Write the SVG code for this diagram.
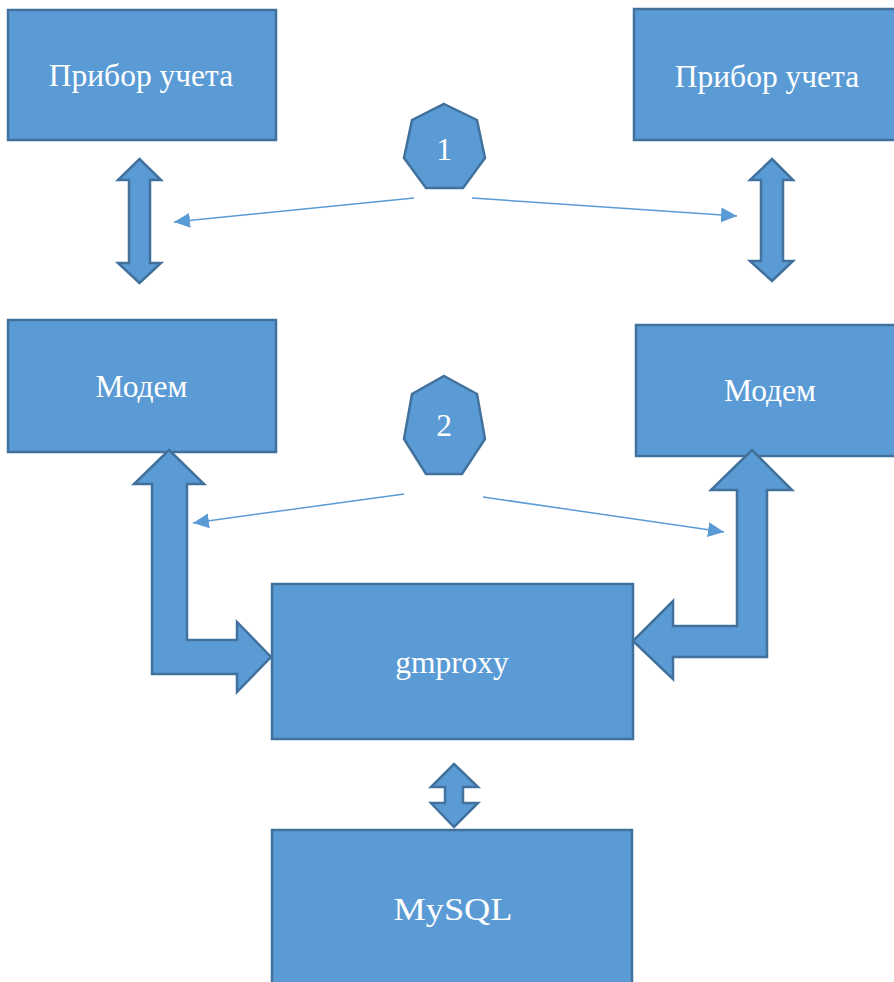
<svg xmlns="http://www.w3.org/2000/svg" width="894" height="982" viewBox="0 0 894 982">
<style>
.box{fill:#5B9BD5;stroke:#41719C;stroke-width:2.5}
.shape{fill:#5B9BD5;stroke:#41719C;stroke-width:2.5;stroke-linejoin:miter}
.lbl{font-family:"Liberation Serif","Times New Roman",serif;font-size:31.5px;fill:#FFFFFF;text-anchor:middle}
.thin{stroke:#5B9BD5;stroke-width:1.5;fill:none}
</style>
<defs>
<marker id="ah" markerUnits="userSpaceOnUse" markerWidth="17" markerHeight="15" refX="16" refY="7.5" orient="auto">
<path d="M0,0 L16,7.5 L0,15 Z" fill="#5B9BD5"/>
</marker>
</defs>
<g id="meter-left">
<rect class="box" x="8" y="10" width="268" height="130"/>
<text class="lbl" x="141" y="86">Прибор учета</text>
</g>
<g id="meter-right">
<rect class="box" x="634" y="9" width="268" height="131"/>
<text class="lbl" x="767" y="87">Прибор учета</text>
</g>
<g id="modem-left">
<rect class="box" x="8" y="320" width="268" height="132"/>
<text class="lbl" x="141.5" y="397">Модем</text>
</g>
<g id="modem-right">
<rect class="box" x="636" y="325" width="268" height="131"/>
<text class="lbl" x="770" y="401">Модем</text>
</g>
<g id="gmproxy">
<rect class="box" x="272" y="584" width="361" height="155"/>
<text class="lbl" x="452" y="673">gmproxy</text>
</g>
<g id="mysql">
<rect class="box" x="272" y="830" width="360" height="160"/>
<text class="lbl" x="453" y="920" textLength="119" lengthAdjust="spacingAndGlyphs">MySQL</text>
</g>
<g id="label-1">
<polygon class="shape" points="444,104 477,120 485,158 463,188 426,188 404,158 412,120"/>
<text class="lbl" x="444" y="160">1</text>
</g>
<g id="label-2">
<polygon class="shape" points="444,376 477,394 485,439 462,474 426,474 404,439 412,394"/>
<text class="lbl" x="444" y="436">2</text>
</g>
<g id="connectors">
<polygon class="shape" points="139.5,159 161,180 150,180 150,263 161,263 139.5,283 118,263 129,263 129,180 118,180"/>
<polygon class="shape" points="772,159 793,180 783,180 783,261 793,261 772,281 750,261 761,261 761,180 750,180"/>
<polygon class="shape" points="169,450 204,484 187,484 187,640 237,640 237,622 271,657 237,692 237,674 152,674 152,484 134,484"/>
<polygon class="shape" points="752,450 792,490 767,490 767,657 673,657 673,679 633,641 673,601 673,626 737,626 737,490 711,490"/>
<polygon class="shape" points="454,764 478,787 463,787 463,803 478,803 454,827 431,803 445,803 445,787 431,787"/>
<line class="thin" x1="414" y1="198" x2="174" y2="222" marker-end="url(#ah)"/>
<line class="thin" x1="472" y1="198" x2="737" y2="216" marker-end="url(#ah)"/>
<line class="thin" x1="404" y1="494" x2="193" y2="523" marker-end="url(#ah)"/>
<line class="thin" x1="483" y1="497" x2="724" y2="532" marker-end="url(#ah)"/>
</g>
</svg>
